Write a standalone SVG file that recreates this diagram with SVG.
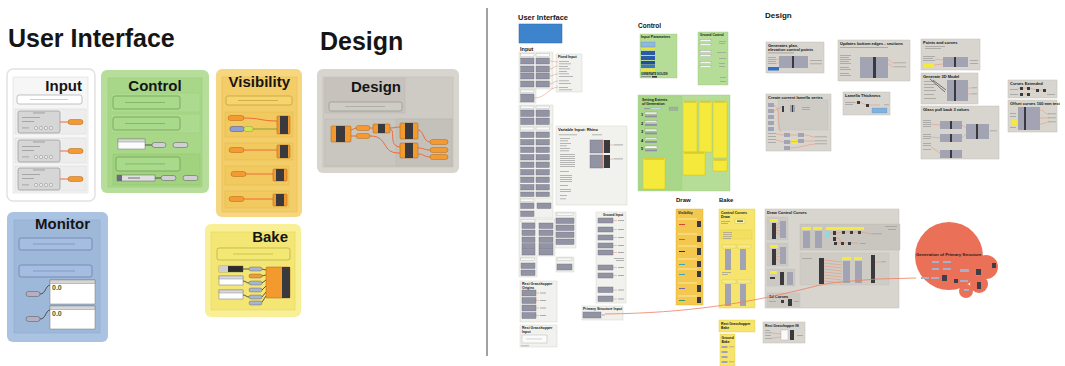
<svg xmlns="http://www.w3.org/2000/svg" width="1065" height="366" viewBox="0 0 1065 366">
<style>
.t{font-family:"Liberation Sans",Arial,sans-serif;font-weight:bold;fill:#151515}
.big{font-size:25px}
.h15{font-size:15px}
.s4{font-size:4px}
.s35{font-size:3.5px}
.gb{fill:#fff;stroke:#9a9a9a;stroke-width:0.6}
.cap{fill:#f39a33;stroke:#b0661c;stroke-width:0.5}
.gcap{fill:#cfcfd4;stroke:#555;stroke-width:0.5}
.wire{fill:none;stroke:#ee6a3a;stroke-width:1}
.dwire{fill:none;stroke:#333;stroke-width:0.8}
.blk{fill:#9293a3;stroke:#6e6f80;stroke-width:0.4}
.hdr{fill:#fafafa;stroke:#b0b0b0;stroke-width:0.4}
.grp{fill:#f1f1ed;stroke:#d6d6cf;stroke-width:0.5}
.dbox{fill:#d8d5cf;stroke:#c2bfb8;stroke-width:0.5}
.ln{fill:#9a9a9a}
.lnl{fill:#c4c4c4}
.ow{fill:none;stroke:#f08a66;stroke-width:0.5}
.yel{fill:#f5ea3c;stroke:#cdbf22;stroke-width:0.4}
.comp{fill:#f29a2e;stroke:#a8601c;stroke-width:0.5}
.dark{fill:#3a3a3e}
.gr{fill:#a3a4b3}
</style>

<!-- ============ LEFT PANEL ============ -->
<g id="title-ui"><text class="t big" x="8" y="47">User Interface</text></g>
<g id="title-design"><text class="t big" x="320" y="50">Design</text></g>

<g id="input">
<rect x="7" y="69" width="88" height="132" rx="6" fill="#fff" stroke="#e2e2e2" stroke-width="1.5"/>
<rect x="13" y="77" width="75" height="116" fill="#f6f6f6" stroke="#dcdcdc" stroke-width="0.6"/>
<text class="t h15" x="82" y="91" text-anchor="end">Input</text>
<rect class="gb" x="17" y="95" width="65" height="9" rx="2"/>
<rect class="lnl" x="30" y="99" width="38" height="0.8"/>
<g id="input-row1">
<rect x="15" y="109" width="71" height="25" fill="#ededed" stroke="#d8d8d8" stroke-width="0.5"/>
<rect x="18" y="111" width="42" height="22" rx="2" fill="#d6d6d6" stroke="#8a8a8a" stroke-width="0.6"/>
<rect class="ln" x="33" y="112.5" width="12" height="0.9"/><rect class="ln" x="22" y="117" width="18" height="0.8"/><rect class="ln" x="22" y="121" width="12" height="0.8"/><rect class="ln" x="22" y="127.5" width="7" height="0.8"/>
<circle cx="36" cy="128" r="1.6" fill="#eee" stroke="#777" stroke-width="0.4"/><circle cx="41" cy="128" r="1.6" fill="#eee" stroke="#777" stroke-width="0.4"/><circle cx="46" cy="128" r="1.6" fill="#eee" stroke="#777" stroke-width="0.4"/><circle cx="51" cy="128" r="1.6" fill="#eee" stroke="#777" stroke-width="0.4"/>
<path class="wire" d="M60,122 L68,122"/><rect class="cap" x="68" y="119.5" width="15" height="5" rx="2.5"/>
</g>
<g id="input-row2">
<rect x="15" y="138" width="71" height="25" fill="#ededed" stroke="#d8d8d8" stroke-width="0.5"/>
<rect x="18" y="140" width="42" height="22" rx="2" fill="#d6d6d6" stroke="#8a8a8a" stroke-width="0.6"/>
<rect class="ln" x="33" y="141.5" width="12" height="0.9"/><rect class="ln" x="22" y="146" width="18" height="0.8"/><rect class="ln" x="22" y="150" width="12" height="0.8"/><rect class="ln" x="22" y="156.5" width="7" height="0.8"/>
<circle cx="36" cy="157" r="1.6" fill="#eee" stroke="#777" stroke-width="0.4"/><circle cx="41" cy="157" r="1.6" fill="#eee" stroke="#777" stroke-width="0.4"/><circle cx="46" cy="157" r="1.6" fill="#eee" stroke="#777" stroke-width="0.4"/><circle cx="51" cy="157" r="1.6" fill="#eee" stroke="#777" stroke-width="0.4"/>
<path class="wire" d="M60,151 L68,151"/><rect class="cap" x="68" y="148.5" width="15" height="5" rx="2.5"/>
</g>
<g id="input-row3">
<rect x="15" y="166" width="71" height="25" fill="#ededed" stroke="#d8d8d8" stroke-width="0.5"/>
<rect x="18" y="168" width="42" height="22" rx="2" fill="#d6d6d6" stroke="#8a8a8a" stroke-width="0.6"/>
<rect class="ln" x="33" y="169.5" width="12" height="0.9"/><rect class="ln" x="22" y="174" width="18" height="0.8"/><rect class="ln" x="22" y="178" width="12" height="0.8"/><rect class="ln" x="22" y="184.5" width="7" height="0.8"/>
<circle cx="36" cy="185" r="1.6" fill="#eee" stroke="#777" stroke-width="0.4"/><circle cx="41" cy="185" r="1.6" fill="#eee" stroke="#777" stroke-width="0.4"/><circle cx="46" cy="185" r="1.6" fill="#eee" stroke="#777" stroke-width="0.4"/><circle cx="51" cy="185" r="1.6" fill="#eee" stroke="#777" stroke-width="0.4"/>
<path class="wire" d="M60,179 L68,179"/><rect class="cap" x="68" y="176.5" width="15" height="5" rx="2.5"/>
</g>
</g>

<g id="control">
<rect x="101" y="70" width="108" height="123" rx="6" fill="#b6de9a"/>
<rect x="108" y="78" width="94" height="109" fill="#a8d788" stroke="#94c674" stroke-width="0.5"/>
<text class="t h15" x="155" y="91" text-anchor="middle">Control</text>
<rect x="111" y="93" width="89" height="19" fill="#acda8e" stroke="#9acb7b" stroke-width="0.4"/>
<rect x="113" y="96" width="67" height="13" rx="2" fill="#a9da8b" stroke="#5f8f45" stroke-width="0.6"/>
<rect x="125" y="102" width="40" height="0.8" fill="#7fb062"/>
<rect x="111" y="114" width="89" height="19" fill="#acda8e" stroke="#9acb7b" stroke-width="0.4"/>
<rect x="113" y="117" width="67" height="13" rx="2" fill="#a9da8b" stroke="#5f8f45" stroke-width="0.6"/>
<rect x="125" y="123" width="40" height="0.8" fill="#7fb062"/>
<rect x="118" y="139" width="27" height="10" fill="#fbfbfb" stroke="#777" stroke-width="0.5"/>
<rect x="118" y="139" width="27" height="3" fill="#d8d8d8" stroke="#777" stroke-width="0.4"/>
<path class="dwire" d="M145,145 L152,145"/>
<rect class="gcap" x="152" y="142.5" width="14" height="5" rx="2.5"/>
<rect class="gcap" x="173" y="142.5" width="15" height="5" rx="2.5"/>
<rect x="113" y="154" width="87" height="31" fill="#a1d37f" stroke="#90c36f" stroke-width="0.4"/>
<rect x="116" y="157" width="64" height="14" rx="2" fill="#a9da8b" stroke="#5f8f45" stroke-width="0.6"/>
<rect x="125" y="163.5" width="40" height="0.8" fill="#7fb062"/>
<rect x="117" y="175" width="38" height="6" fill="#e0e0e0" stroke="#666" stroke-width="0.5"/>
<rect x="117" y="175" width="5" height="6" fill="#6a6a7a"/>
<rect x="128" y="177.6" width="12" height="0.8" fill="#555"/>
<path class="dwire" d="M155,178 L161,178"/>
<rect class="gcap" x="161" y="175.5" width="15" height="5" rx="2.5"/>
<rect class="gcap" x="183" y="175.5" width="15" height="5" rx="2.5"/>
</g>

<g id="visibility">
<rect x="216" y="69" width="86" height="148" rx="6" fill="#f7d680"/>
<rect x="222" y="77" width="75" height="135" fill="#f3cd68" stroke="#e2b850" stroke-width="0.5"/>
<text class="t h15" x="290" y="87" text-anchor="end">Visibility</text>
<rect x="226" y="96" width="66" height="9" rx="2" fill="#f6d56b" stroke="#b8923a" stroke-width="0.6"/>
<rect x="238" y="100" width="40" height="0.8" fill="#c9a448"/>
<rect x="225" y="112" width="68" height="25" fill="#f1c95e" stroke="#deb44a" stroke-width="0.4"/>
<path class="wire" d="M244,118 C260,118 262,121 277,121"/>
<path d="M253,129 L277,129" fill="none" stroke="#8aa03a" stroke-width="1"/>
<rect class="cap" x="228" y="115.5" width="16" height="5" rx="2.5"/>
<rect x="230" y="126.5" width="14" height="5" rx="2" fill="#8f9fd4" stroke="#44508a" stroke-width="0.5"/>
<rect x="244" y="126.5" width="9" height="5" rx="2" fill="#d3e35a" stroke="#8aa03a" stroke-width="0.5"/>
<rect class="comp" x="277" y="116" width="13" height="18" rx="1"/><rect class="dark" x="280" y="116" width="8" height="18"/>
<rect x="225" y="143" width="68" height="17" fill="#f1c95e" stroke="#deb44a" stroke-width="0.4"/>
<path class="wire" d="M244,150 L277,150"/>
<rect class="cap" x="229" y="147.5" width="15" height="5" rx="2.5"/>
<rect class="comp" x="277" y="145" width="13" height="13" rx="1"/><rect class="dark" x="280" y="145" width="8" height="13"/>
<rect x="225" y="166" width="64" height="19" fill="#f1c95e" stroke="#deb44a" stroke-width="0.4"/>
<path class="wire" d="M246,174 L273,174"/>
<rect class="cap" x="231" y="171.5" width="15" height="5" rx="2.5"/>
<rect class="comp" x="273" y="169" width="14" height="12" rx="1"/><rect class="dark" x="276" y="169" width="8" height="12"/>
<rect x="225" y="191" width="64" height="17" fill="#f1c95e" stroke="#deb44a" stroke-width="0.4"/>
<path class="wire" d="M244,199 L273,199"/>
<rect class="cap" x="229" y="196.5" width="15" height="5" rx="2.5"/>
<rect class="comp" x="273" y="194" width="14" height="12" rx="1"/><rect class="dark" x="276" y="194" width="8" height="12"/>
</g>

<g id="design">
<rect x="317" y="69" width="142" height="104" rx="6" fill="#d8d5ce"/>
<rect x="323" y="77" width="130" height="90" fill="#cecbc4" stroke="#bdbab3" stroke-width="0.5"/>
<rect x="325" y="78" width="80" height="35" fill="#c7c3bc" stroke="#b8b4ad" stroke-width="0.4"/>
<text class="t h15" x="401" y="92" text-anchor="end">Design</text>
<rect x="329" y="102" width="73" height="9" rx="2" fill="#cfccc5" stroke="#8f8c86" stroke-width="0.6"/>
<rect x="345" y="106" width="40" height="0.8" fill="#a9a6a0"/>
<rect x="325" y="119" width="127" height="47" fill="#c9c6bf" stroke="#b9b6af" stroke-width="0.4"/>
<rect x="396" y="119" width="56" height="47" fill="#c4c1ba" stroke="#b5b2ab" stroke-width="0.4"/>
<path class="wire" d="M351,130 L356,128 M351,136 L356,136 M370,128 L373,128 M390,128 C395,128 395,127 400,127 M390,129 C396,130 388,146 400,147 M370,136 C380,136 382,140 387,148 C390,152 394,153 400,153 M418,130 C424,130 423,142 430,142 M418,148 C424,148 424,150 430,150 M418,154 C424,154 424,157 430,157"/>
<rect class="comp" x="331" y="126" width="20" height="16" rx="1"/><rect class="dark" x="336" y="126" width="9" height="16"/>
<rect class="cap" x="356" y="125.5" width="14" height="5" rx="2.5"/>
<rect class="cap" x="356" y="133.5" width="14" height="5" rx="2.5"/>
<rect class="comp" x="373" y="124" width="17" height="9" rx="1"/><rect class="dark" x="378" y="124" width="7" height="9"/>
<rect class="comp" x="400" y="123" width="18" height="16" rx="1"/><rect class="dark" x="405" y="123" width="8" height="16"/>
<rect class="comp" x="400" y="143" width="18" height="15" rx="1"/><rect class="dark" x="405" y="143" width="8" height="15"/>
<rect class="cap" x="430" y="139.5" width="18" height="5" rx="2.5"/>
<rect class="cap" x="430" y="147.5" width="18" height="5" rx="2.5"/>
<rect class="cap" x="430" y="154.5" width="18" height="5" rx="2.5"/>
</g>

<g id="monitor">
<rect x="7" y="212" width="101" height="130" rx="6" fill="#aac3e2"/>
<rect x="14" y="220" width="86" height="113" fill="#9eb8da" stroke="#8ea8cc" stroke-width="0.5"/>
<text class="t h15" x="90" y="229" text-anchor="end">Monitor</text>
<rect x="19" y="238" width="73" height="12" rx="2" fill="#a4bde0" stroke="#5a6f93" stroke-width="0.6"/>
<rect x="33" y="243.6" width="42" height="0.8" fill="#7d93b8"/>
<rect x="19" y="265" width="73" height="12" rx="2" fill="#a4bde0" stroke="#5a6f93" stroke-width="0.6"/>
<rect x="33" y="270.6" width="42" height="0.8" fill="#7d93b8"/>
<rect x="50" y="280" width="45" height="24" fill="#fff" stroke="#777" stroke-width="0.5"/>
<rect x="50" y="280" width="45" height="3.5" fill="#d6d6d6" stroke="#777" stroke-width="0.4"/>
<text class="t" x="52" y="290" font-size="7" style="fill:#2e6b2e">0.0</text>
<rect x="50" y="306" width="45" height="23" fill="#fff" stroke="#777" stroke-width="0.5"/>
<rect x="50" y="306" width="45" height="3.5" fill="#d6d6d6" stroke="#777" stroke-width="0.4"/>
<text class="t" x="52" y="316" font-size="7" style="fill:#2e6b2e">0.0</text>
<path class="dwire" d="M40,294 C46,294 45,286 50,285 M40,319 C46,319 45,311 50,310"/>
<rect x="26" y="291.5" width="14" height="5" rx="2.5" fill="#b7aec2" stroke="#555" stroke-width="0.5"/>
<rect x="26" y="316.5" width="14" height="5" rx="2.5" fill="#b7aec2" stroke="#555" stroke-width="0.5"/>
</g>

<g id="bake">
<rect x="205" y="224" width="96" height="93" rx="6" fill="#f8ef97"/>
<rect x="211" y="232" width="84" height="78" fill="#f3e675" stroke="#e0d15b" stroke-width="0.5"/>
<text class="t h15" x="288" y="242" text-anchor="end">Bake</text>
<rect x="217" y="248" width="73" height="12" rx="2" fill="#f4e874" stroke="#a89d3a" stroke-width="0.6"/>
<rect x="233" y="253.6" width="40" height="0.8" fill="#c6b94a"/>
<rect x="219" y="266" width="24" height="6" fill="#2c2c2c" stroke="#555" stroke-width="0.4"/>
<rect x="219" y="266" width="9" height="6" fill="#cfcfcf"/>
<rect x="219" y="276" width="24" height="9" fill="#fff" stroke="#777" stroke-width="0.5"/>
<rect x="219" y="276" width="24" height="3" fill="#d9d9d9" stroke="#777" stroke-width="0.4"/>
<rect x="219" y="290" width="24" height="9" fill="#fff" stroke="#777" stroke-width="0.5"/>
<rect x="219" y="290" width="24" height="3" fill="#d9d9d9" stroke="#777" stroke-width="0.4"/>
<path class="dwire" d="M243,269 L249,269 M243,281 C246,281 246,283 249,283 M243,295 C246,295 246,297 249,297 M262,269 L266,270 M262,276 L266,275 M262,283 L266,280 M262,290 L266,286 M262,297 L266,292 M262,302 L266,296"/>
<rect x="249" y="267" width="13" height="4" rx="2" fill="#a9b5cb" stroke="#555" stroke-width="0.4"/>
<rect x="249" y="274" width="13" height="4" rx="2" fill="#f39a33" stroke="#555" stroke-width="0.4"/>
<rect x="249" y="281" width="13" height="4" rx="2" fill="#a9b5cb" stroke="#555" stroke-width="0.4"/>
<rect x="249" y="288" width="13" height="4" rx="2" fill="#a9b5cb" stroke="#555" stroke-width="0.4"/>
<rect x="249" y="295" width="13" height="4" rx="2" fill="#a9b5cb" stroke="#555" stroke-width="0.4"/>
<rect x="249" y="301" width="13" height="4" rx="2" fill="#a9b5cb" stroke="#555" stroke-width="0.4"/>
<rect class="comp" x="266" y="267" width="24" height="31" rx="1"/><rect class="dark" x="282" y="267" width="8" height="31"/>
</g>

<g id="divider"><line x1="487" y1="8" x2="487" y2="356" stroke="#444" stroke-width="1"/></g>

<!-- ============ RIGHT PANEL ============ -->
<g id="r-title-ui">
<text class="t" x="518" y="20" font-size="7.5">User Interface</text>
<rect x="519" y="24" width="43" height="19" fill="#3d84cc" stroke="#2a67a8" stroke-width="0.5"/>
<text class="t" x="520" y="51" font-size="5.5">Input</text>
</g>

<g id="r-input-blocks">
<rect class="grp" x="519" y="52" width="34" height="37"/><rect class="grp" x="519" y="89" width="17" height="14"/>
<rect class="hdr" x="520.7" y="53.3" width="13.3" height="3.4"/><rect class="hdr" x="536" y="53.3" width="13.3" height="3.4"/>
<rect class="blk" x="520.7" y="58" width="13.3" height="6"/><rect class="blk" x="520.7" y="66" width="13.3" height="6"/><rect class="blk" x="520.7" y="73" width="13.3" height="6"/><rect class="blk" x="520.7" y="81" width="13.3" height="6"/>
<rect class="blk" x="536" y="58" width="13.3" height="6"/><rect class="blk" x="536" y="66" width="13.3" height="6"/><rect class="blk" x="536" y="73" width="13.3" height="6"/><rect class="blk" x="536" y="81" width="13.3" height="6"/>
<rect class="hdr" x="520.7" y="90" width="13.3" height="2.7"/><rect class="blk" x="520.7" y="94" width="13.3" height="8"/>
<rect class="grp" x="519" y="105" width="34" height="20"/>
<rect class="hdr" x="520.7" y="106" width="13.3" height="2.5"/><rect class="hdr" x="536" y="106" width="13.3" height="2.5"/>
<rect class="blk" x="520.7" y="110" width="13.3" height="6.5"/><rect class="blk" x="520.7" y="118" width="13.3" height="6.5"/><rect class="blk" x="536" y="110" width="13.3" height="6.5"/><rect class="blk" x="536" y="118" width="13.3" height="6.5"/>
<rect class="grp" x="519" y="126" width="34" height="71"/>
<rect class="hdr" x="520.7" y="127" width="13.3" height="3"/><rect class="hdr" x="536" y="127" width="13.3" height="3"/>
<rect class="blk" x="520.7" y="132" width="13.3" height="5.5"/><rect class="blk" x="520.7" y="139.5" width="13.3" height="5.5"/><rect class="blk" x="520.7" y="147" width="13.3" height="5.5"/><rect class="blk" x="520.7" y="154.5" width="13.3" height="5.5"/><rect class="blk" x="520.7" y="162" width="13.3" height="5.5"/><rect class="blk" x="520.7" y="169.5" width="13.3" height="5.5"/><rect class="blk" x="520.7" y="177" width="13.3" height="5.5"/><rect class="blk" x="520.7" y="184.5" width="13.3" height="5.5"/><rect class="blk" x="520.7" y="192" width="13.3" height="4.5"/>
<rect class="blk" x="536" y="132" width="13.3" height="5.5"/><rect class="blk" x="536" y="139.5" width="13.3" height="5.5"/><rect class="blk" x="536" y="147" width="13.3" height="5.5"/><rect class="blk" x="536" y="154.5" width="13.3" height="5.5"/><rect class="blk" x="536" y="162" width="13.3" height="5.5"/><rect class="blk" x="536" y="169.5" width="13.3" height="5.5"/><rect class="blk" x="536" y="177" width="13.3" height="5.5"/><rect class="blk" x="536" y="184.5" width="13.3" height="5.5"/><rect class="blk" x="536" y="192" width="13.3" height="4.5"/>
<rect class="grp" x="519" y="198" width="34" height="20"/>
<rect class="hdr" x="520.7" y="199" width="13.3" height="2.5"/>
<rect class="blk" x="520.7" y="203" width="13.3" height="5.5"/><rect class="blk" x="520.7" y="211" width="13.3" height="5.5"/><rect class="blk" x="537" y="203" width="14" height="5.5"/>
<rect class="grp" x="519" y="219" width="36" height="37"/>
<rect class="hdr" x="521" y="219.5" width="14" height="2.5"/>
<rect class="blk" x="522" y="223" width="13" height="5.5"/><rect class="blk" x="522" y="230" width="13" height="5.5"/><rect class="blk" x="522" y="237" width="13" height="5.5"/><rect class="blk" x="522" y="243.5" width="13" height="5.5"/><rect class="blk" x="522" y="249.5" width="13" height="5.5"/>
<rect class="blk" x="539" y="223" width="14" height="5.5"/><rect class="blk" x="539" y="230" width="14" height="5.5"/><rect class="blk" x="539" y="237" width="14" height="5.5"/><rect class="blk" x="539" y="243.5" width="14" height="5.5"/><rect class="blk" x="539" y="249.5" width="14" height="5.5"/>
<rect class="grp" x="555" y="212" width="21" height="36"/>
<rect class="hdr" x="556.5" y="213" width="17" height="2.5"/>
<rect class="blk" x="556" y="218" width="18" height="5.5"/><rect class="blk" x="556" y="225" width="18" height="5.5"/><rect class="blk" x="556" y="232" width="18" height="5.5"/><rect class="blk" x="556" y="239" width="18" height="5.5"/>
<rect class="grp" x="519" y="257" width="18" height="20"/>
<rect class="hdr" x="520.7" y="258" width="14" height="2.5"/>
<rect class="blk" x="521" y="263" width="14" height="5.5"/><rect class="blk" x="521" y="270" width="14" height="5.5"/>
<rect class="grp" x="556" y="257" width="18" height="15"/>
<rect class="hdr" x="557" y="258" width="15" height="2.5"/><rect class="blk" x="557" y="264" width="15" height="6"/>
</g>

<g id="r-fixed-input">
<rect class="grp" x="556" y="54" width="26" height="38"/>
<text class="t s35" x="558" y="58">Fixed Input</text>
<rect class="ln" x="559" y="61" width="10" height="0.7"/><rect class="ln" x="559" y="63.5" width="12" height="0.7"/><rect class="ln" x="559" y="66" width="9" height="0.7"/><rect class="ln" x="559" y="68.5" width="11" height="0.7"/><rect class="ln" x="559" y="71" width="8" height="0.7"/><rect class="ln" x="559" y="73.5" width="10" height="0.7"/><rect class="ln" x="559" y="76" width="14" height="0.7"/><rect class="ln" x="559" y="80.5" width="10" height="0.7"/><rect class="ln" x="559" y="83" width="12" height="0.7"/><rect class="ln" x="559" y="87" width="9" height="0.7"/><rect class="ln" x="559" y="89.5" width="13" height="0.7"/>
<path class="ow" d="M549,61 C554,61 553,62 558,62 M549,69 C554,69 553,66 558,66 M549,76 C554,76 553,74 558,74 M549,84 C554,84 553,81 558,81 M534,98 C546,98 548,88 558,87"/>
</g>

<g id="r-variable-input">
<rect class="grp" x="556" y="126" width="71" height="79"/>
<text class="t s4" x="558" y="130.5">Variable Input: Rhino</text>
<rect class="ln" x="559" y="134.5" width="18" height="0.7"/><rect class="ln" x="592" y="134.5" width="10" height="0.7"/>
<rect class="ln" x="560" y="138" width="10" height="0.7"/><rect class="ln" x="560" y="140.5" width="8" height="0.7"/><rect class="ln" x="560" y="143" width="11" height="0.7"/><rect class="ln" x="560" y="145.5" width="7" height="0.7"/><rect class="ln" x="560" y="148" width="10" height="0.7"/><rect class="ln" x="560" y="150.5" width="9" height="0.7"/>
<rect class="ln" x="560" y="154" width="15" height="0.7"/><rect class="ln" x="560" y="156" width="15" height="0.7"/><rect class="ln" x="560" y="158" width="15" height="0.7"/><rect class="ln" x="560" y="160" width="15" height="0.7"/><rect class="ln" x="560" y="162" width="15" height="0.7"/><rect class="ln" x="560" y="164" width="15" height="0.7"/><rect class="ln" x="560" y="166" width="15" height="0.7"/>
<rect class="ln" x="560" y="171" width="9" height="0.7"/><rect class="ln" x="560" y="175" width="12" height="0.7"/><rect class="ln" x="560" y="177" width="12" height="0.7"/><rect class="ln" x="560" y="179" width="12" height="0.7"/><rect class="ln" x="560" y="181" width="12" height="0.7"/><rect class="ln" x="560" y="185" width="8" height="0.7"/><rect class="ln" x="560" y="189" width="11" height="0.7"/><rect class="ln" x="560" y="191" width="11" height="0.7"/><rect class="ln" x="560" y="195" width="7" height="0.7"/><rect class="ln" x="560" y="198.5" width="6" height="0.7"/>
<rect class="blk" x="590" y="140" width="13" height="13"/><rect class="blk" x="590" y="155" width="13" height="13"/>
<rect x="602.5" y="140" width="1" height="13" fill="#f08a66"/><rect x="602.5" y="155" width="1" height="13" fill="#f08a66"/>
<rect class="dark" x="604" y="140" width="6" height="13"/><rect class="dark" x="604" y="155" width="6" height="13"/>
<path class="ow" d="M610,145 L614,145 M610,159 L614,159"/>
<rect class="ln" x="614" y="144.5" width="9" height="0.8"/><rect class="ln" x="614" y="158.5" width="9" height="0.8"/>
</g>

<g id="r-rest-origins">
<rect class="grp" x="520" y="281" width="37" height="41"/>
<text class="t s35" x="522" y="285">Rest Grasshopper</text>
<text class="t s35" x="522" y="289">Origins</text>
<rect class="blk" x="522" y="290" width="14" height="6"/><rect class="blk" x="522" y="297.5" width="14" height="6"/><rect class="blk" x="522" y="305" width="14" height="6"/><rect class="blk" x="522" y="312.5" width="14" height="6"/>
<path class="ow" d="M536,293 L539,293 M536,300.5 L539,300.5 M536,308 L539,308 M536,315.5 L539,315.5"/>
<rect class="ln" x="540" y="292.6" width="6" height="0.8"/><rect class="ln" x="540" y="300.1" width="6" height="0.8"/><rect class="ln" x="540" y="307.6" width="6" height="0.8"/><rect class="ln" x="540" y="315.1" width="6" height="0.8"/>
</g>

<g id="r-rest-input">
<rect class="grp" x="520" y="325" width="37" height="22"/>
<text class="t s35" x="522" y="329">Rest Grasshopper</text>
<text class="t s35" x="522" y="333">Input</text>
<rect x="522" y="335" width="25" height="8" fill="#fbfbfb" stroke="#aaa" stroke-width="0.4"/>
<rect class="lnl" x="526" y="338.6" width="16" height="0.7"/>
<rect class="ln" x="521" y="345.5" width="8" height="0.7"/>
</g>

<g id="r-ground-input">
<rect class="grp" x="596" y="212" width="30" height="91"/>
<text class="t" x="603" y="216" font-size="3.2">Ground Input</text>
<rect class="blk" x="598" y="218" width="15" height="5"/><rect class="blk" x="598" y="227" width="15" height="5"/><rect class="blk" x="598" y="235" width="15" height="5"/><rect class="blk" x="598" y="243" width="15" height="5"/><rect class="blk" x="598" y="250" width="15" height="5"/><rect class="blk" x="598" y="265" width="15" height="5"/><rect class="blk" x="598" y="273" width="15" height="5"/><rect class="blk" x="598" y="287" width="15" height="5.5"/><rect class="blk" x="598" y="296" width="15" height="5.5"/>
<path class="ow" d="M613,220.5 L617,220.5 M613,229.5 L617,229.5 M613,237.5 L617,237.5 M613,245.5 L617,245.5 M613,252.5 L617,252.5 M613,267.5 L617,267.5 M613,275.5 L617,275.5 M613,290 L617,290 M613,299 L617,299"/>
<rect class="ln" x="618" y="220" width="6" height="0.8"/><rect class="ln" x="618" y="229" width="6" height="0.8"/><rect class="ln" x="618" y="237" width="6" height="0.8"/><rect class="ln" x="618" y="245" width="6" height="0.8"/><rect class="ln" x="618" y="252" width="6" height="0.8"/><rect class="ln" x="614" y="258" width="10" height="0.7"/><rect class="ln" x="616" y="260" width="8" height="0.7"/><rect class="ln" x="618" y="267" width="6" height="0.8"/><rect class="ln" x="618" y="275" width="6" height="0.8"/><rect class="ln" x="618" y="289.6" width="6" height="0.8"/><rect class="ln" x="618" y="298.6" width="6" height="0.8"/>
</g>

<g id="r-primary-input">
<rect class="grp" x="582" y="306" width="41" height="14"/>
<text class="t s35" x="583" y="309.5">Primary Structure Input</text>
<rect class="blk" x="583" y="312" width="18" height="6"/>
<rect class="ln" x="602" y="314.6" width="3" height="0.8"/>
</g>

<g id="r-control">
<text class="t" x="638" y="28" font-size="6.5">Control</text>
<g id="r-input-parameters">
<rect x="640" y="34" width="37" height="44" fill="#b5dd98" stroke="#9cc980" stroke-width="0.4"/>
<text class="t" x="641" y="38" font-size="3.6">Input Parameters</text>
<rect x="641" y="42" width="14" height="5" fill="#8fb8e0" stroke="#5b7fae" stroke-width="0.3"/>
<rect x="641" y="48" width="14" height="1.5" fill="#f0e23a"/>
<rect x="641" y="51" width="14" height="4" fill="#2c5aa6"/>
<rect x="641" y="56" width="14" height="4" fill="#2c5aa6"/>
<rect x="641" y="61" width="14" height="3.5" fill="#1f4e9a"/>
<rect x="641" y="65" width="14" height="3" fill="#3a78c4"/>
<rect x="641" y="68.5" width="14" height="3" fill="#f0e23a"/>
<text class="t" x="641" y="75" font-size="2.8">GENERATE SOLIDS</text>
<rect x="641" y="76.3" width="10" height="0.8" fill="#777"/><rect class="dark" x="652" y="76" width="5" height="1.6"/>
</g>
<g id="r-ground-control">
<rect x="698" y="32" width="30" height="53" fill="#b5dd98" stroke="#9cc980" stroke-width="0.4"/>
<text class="t" x="700" y="36" font-size="3.2">Ground Control</text>
<rect x="700" y="39.5" width="11" height="2.3" fill="#f4f4f4" stroke="#888" stroke-width="0.3"/><rect x="700" y="43.5" width="11" height="2.3" fill="#f4f4f4" stroke="#888" stroke-width="0.3"/><rect x="700" y="50.5" width="11" height="2.3" fill="#f4f4f4" stroke="#888" stroke-width="0.3"/><rect x="700" y="54.5" width="11" height="2.3" fill="#f4f4f4" stroke="#888" stroke-width="0.3"/><rect x="700" y="61.5" width="11" height="2.3" fill="#f4f4f4" stroke="#888" stroke-width="0.3"/><rect x="700" y="65.5" width="11" height="2.3" fill="#f4f4f4" stroke="#888" stroke-width="0.3"/>
<rect class="ln" x="719" y="41" width="7" height="0.7"/><rect class="ln" x="719" y="43" width="6" height="0.7"/><rect class="ln" x="717" y="52" width="9" height="0.7"/><rect class="ln" x="719" y="58" width="7" height="0.7"/><rect class="ln" x="719" y="63" width="6" height="0.7"/><rect class="ln" x="719" y="66" width="6" height="0.7"/><rect class="ln" x="720" y="77" width="6" height="0.7"/><rect class="ln" x="720" y="81" width="6" height="0.7"/>
</g>
<g id="r-extents">
<rect x="638" y="95" width="92" height="96" fill="#b5dd98" stroke="#9cc980" stroke-width="0.4"/>
<rect x="639" y="96" width="43" height="94" fill="#a9d78a" stroke="#98c77a" stroke-width="0.3"/>
<text class="t s35" x="642" y="101">Setting Extents</text>
<text class="t s35" x="642" y="105">of Generation</text>
<rect class="ln" x="644" y="108" width="6" height="1.2"/><rect x="651" y="107.8" width="10" height="1.6" fill="#c8d8e8" stroke="#888" stroke-width="0.2"/>
<rect x="669" y="107" width="9" height="3.5" fill="#9fb0a0" stroke="#7a8a7a" stroke-width="0.2"/>
<text class="t s4" x="641" y="116">1</text><text class="t s4" x="641" y="124.5">2</text><text class="t s4" x="641" y="133">3</text><text class="t s4" x="641" y="141.5">4</text><text class="t s4" x="641" y="150">5</text>
<rect x="645" y="112" width="12" height="2.3" fill="#e6efe0" stroke="#777" stroke-width="0.3"/><rect x="645" y="115.5" width="12" height="1.8" fill="#8d8e9e"/>
<rect x="645" y="120.5" width="12" height="2.3" fill="#e6efe0" stroke="#777" stroke-width="0.3"/><rect x="645" y="124" width="12" height="1.8" fill="#8d8e9e"/>
<rect x="645" y="129" width="12" height="2.3" fill="#e6efe0" stroke="#777" stroke-width="0.3"/><rect x="645" y="132.5" width="12" height="1.8" fill="#8d8e9e"/>
<rect x="645" y="137.5" width="12" height="2.3" fill="#e6efe0" stroke="#777" stroke-width="0.3"/><rect x="645" y="141" width="12" height="1.8" fill="#8d8e9e"/>
<rect x="645" y="146" width="12" height="2.3" fill="#f8f8f8" stroke="#777" stroke-width="0.3"/><rect x="645" y="149.5" width="12" height="1.8" fill="#8d8e9e"/>
<rect class="yel" x="643" y="158" width="22" height="31"/>
<rect class="yel" x="683" y="101" width="14" height="51"/>
<rect class="yel" x="699" y="101" width="13" height="51"/>
<rect class="yel" x="713" y="101" width="14" height="57"/>
<rect class="yel" x="683" y="152" width="22" height="23"/>
<rect class="yel" x="713" y="159" width="14" height="12"/>
<rect x="684" y="101.5" width="12" height="1" fill="#c8b62a"/><rect x="700" y="101.5" width="11" height="1" fill="#c8b62a"/><rect x="714" y="101.5" width="12" height="1" fill="#c8b62a"/><rect x="684" y="152.5" width="20" height="1" fill="#c8b62a"/><rect x="714" y="159.5" width="12" height="1" fill="#c8b62a"/><rect x="644" y="158.5" width="20" height="1" fill="#c8b62a"/>
</g>
</g>

<g id="r-draw-bake-titles">
<text class="t" x="676" y="202" font-size="6">Draw</text>
<text class="t" x="719" y="202" font-size="6">Bake</text>
</g>

<g id="r-visibility">
<rect x="676" y="209" width="27" height="96" fill="#f4c84f" stroke="#dcae3a" stroke-width="0.4"/>
<text class="t" x="678" y="213.5" font-size="3.6">Visibility</text>
<rect x="678" y="218" width="19" height="2" fill="#f8d978"/><rect x="679" y="224" width="6" height="1" fill="#d8403a"/><rect class="dark" x="697" y="221" width="4" height="6"/>
<rect x="678" y="233" width="19" height="2" fill="#f8d978"/><rect x="679" y="239" width="6" height="1" fill="#3aa070"/><rect class="dark" x="697" y="236" width="4" height="6"/>
<rect x="678" y="245" width="19" height="2" fill="#f8d978"/><rect x="679" y="251" width="6" height="1" fill="#333"/><rect class="dark" x="697" y="248" width="4" height="7"/>
<rect x="678" y="258" width="19" height="2" fill="#f8d978"/><rect x="679" y="264" width="6" height="1" fill="#38a7c0"/><rect class="dark" x="697" y="261" width="4" height="6"/>
<rect x="678" y="268" width="19" height="2" fill="#f8d978"/><rect x="679" y="274" width="6" height="1" fill="#38a7c0"/><rect class="dark" x="697" y="271" width="4" height="6"/>
<rect x="678" y="282" width="19" height="2" fill="#f8d978"/><rect x="679" y="288" width="6" height="1" fill="#7a60b0"/><rect class="dark" x="697" y="285" width="4" height="7"/>
<rect x="678" y="295" width="19" height="2" fill="#f8d978"/><rect x="679" y="300" width="6" height="1" fill="#3a9a6a"/><rect class="dark" x="697" y="297" width="4" height="6"/>
</g>

<g id="r-control-curves-draw">
<rect x="719" y="209" width="36" height="99" fill="#f6e46c" stroke="#dccb50" stroke-width="0.4"/>
<text class="t" x="721" y="213.5" font-size="3.6">Control Curves</text>
<text class="t" x="721" y="217.5" font-size="3.6">Draw</text>
<rect class="ln" x="721" y="221" width="9" height="0.7"/><rect class="ln" x="721" y="223" width="7" height="0.7"/>
<rect x="735" y="219" width="10" height="4.5" fill="#faf3a0" stroke="#b8a83a" stroke-width="0.3"/><rect class="dark" x="737" y="220.5" width="6" height="1.2"/>
<rect x="721" y="230" width="31" height="9" fill="#f3df60" stroke="#d8c64a" stroke-width="0.3"/>
<rect class="ln" x="723" y="232" width="9" height="0.7"/><rect class="ln" x="723" y="234" width="9" height="0.7"/><rect class="ln" x="723" y="236" width="9" height="0.7"/><rect class="ln" x="723" y="238" width="8" height="0.7"/>
<rect x="722" y="245" width="14" height="3" fill="#f8ed8a" stroke="#c9b84a" stroke-width="0.3"/><rect x="737" y="245" width="14" height="3" fill="#f8ed8a" stroke="#c9b84a" stroke-width="0.3"/>
<rect class="gr" x="725" y="249" width="6" height="21"/><rect class="gr" x="740" y="249" width="6" height="21"/>
<rect class="ln" x="722" y="272" width="9" height="0.7"/><rect class="ln" x="722" y="274" width="6" height="0.7"/>
<rect x="722" y="280" width="14" height="3" fill="#f8ed8a" stroke="#c9b84a" stroke-width="0.3"/><rect x="737" y="280" width="14" height="3" fill="#f8ed8a" stroke="#c9b84a" stroke-width="0.3"/>
<rect class="gr" x="725" y="284" width="6" height="22"/><rect class="gr" x="740" y="284" width="6" height="22"/>
</g>

<g id="r-rest-bake">
<rect x="719" y="320" width="36" height="12" fill="#f6e46c" stroke="#dccb50" stroke-width="0.4"/>
<text class="t" x="721" y="324.5" font-size="3.4">Rest Grasshopper</text>
<text class="t" x="721" y="328.5" font-size="3.4">Bake</text>
</g>
<g id="r-ground-bake">
<rect x="720" y="334" width="15" height="32" fill="#f6e46c" stroke="#dccb50" stroke-width="0.4"/>
<text class="t" x="721.5" y="338.5" font-size="3.4">Ground</text>
<text class="t" x="721.5" y="342.5" font-size="3.4">Bake</text>
<rect class="gr" x="721.5" y="346" width="6" height="2"/><rect class="gr" x="721.5" y="351" width="6" height="2"/><rect class="gr" x="721.5" y="356" width="6" height="2"/><rect class="gr" x="721.5" y="361" width="6" height="2"/>
<rect class="ln" x="729" y="346.5" width="5" height="0.7"/><rect class="ln" x="729" y="361.5" width="5" height="0.7"/>
</g>

<g id="r-design">
<text class="t" x="765" y="18" font-size="8">Design</text>
<g id="d-generates">
<rect class="dbox" x="766" y="42" width="58" height="31"/>
<text class="t s4" x="768" y="46.5">Generates plan,</text>
<text class="t s4" x="768" y="50.5">elevation control points</text>
<rect class="ln" x="768" y="52.5" width="26" height="0.8"/>
<rect class="ln" x="768" y="57" width="8" height="0.7"/><rect class="ln" x="768" y="59" width="8" height="0.7"/><rect class="ln" x="768" y="61" width="8" height="0.7"/><rect class="ln" x="768" y="63" width="8" height="0.7"/>
<rect x="768" y="67" width="11" height="3.5" fill="#2f6fc4"/>
<path class="ow" d="M776,60 L779,59 M776,64 L779,62"/>
<rect class="gr" x="779" y="56" width="29" height="12"/><rect class="dark" x="792" y="56" width="2" height="12"/>
<rect class="ln" x="810" y="60" width="12" height="0.7"/><rect class="ln" x="810" y="63.5" width="12" height="0.7"/>
</g>
<g id="d-updates">
<rect class="dbox" x="838" y="40" width="72" height="41"/>
<text class="t s4" x="840" y="44.5">Updates bottom edges - sections</text>
<rect class="ln" x="840" y="47" width="48" height="0.7"/>
<rect class="ln" x="840" y="55" width="11" height="0.7"/><rect class="ln" x="840" y="57" width="9" height="0.7"/><rect class="ln" x="840" y="59" width="11" height="0.7"/><rect class="ln" x="840" y="61" width="9" height="0.7"/><rect class="ln" x="840" y="63" width="11" height="0.7"/><rect class="ln" x="840" y="67" width="9" height="0.7"/><rect class="ln" x="840" y="69" width="11" height="0.7"/><rect class="ln" x="840" y="73" width="9" height="0.7"/><rect class="ln" x="840" y="75" width="11" height="0.7"/>
<rect class="gr" x="860" y="57" width="28" height="21"/><rect class="dark" x="873" y="57" width="3" height="21"/>
<path class="ow" d="M888,60 C892,60 890,63 894,63 M888,64 C892,64 890,67 894,67"/>
<rect class="ln" x="894" y="62.5" width="12" height="0.7"/><rect class="ln" x="894" y="66.5" width="12" height="0.7"/>
</g>
<g id="d-points">
<rect class="dbox" x="921" y="39" width="59" height="31"/>
<text class="t s4" x="923" y="43.5">Points and curves</text>
<rect class="ln" x="925" y="46" width="20" height="0.7"/><rect class="ln" x="925" y="48" width="16" height="0.7"/>
<rect class="ln" x="923" y="56" width="12" height="0.7"/><rect class="ln" x="923" y="58" width="10" height="0.7"/><rect class="ln" x="923" y="60" width="12" height="0.7"/>
<rect x="924" y="64" width="10" height="3.5" fill="#f5ea3c"/>
<path class="ow" d="M935,59 L943,60 M934,65 L943,64"/>
<rect class="gr" x="943" y="57" width="25" height="10"/><rect class="dark" x="954" y="57" width="2" height="10"/>
<rect class="ln" x="970" y="60" width="8" height="0.7"/><rect class="ln" x="970" y="63" width="8" height="0.7"/>
</g>
<g id="d-generate3d">
<rect class="dbox" x="921" y="73" width="57" height="31"/>
<text class="t s4" x="923" y="77.5">Generate 3D Model</text>
<rect class="ln" x="924" y="81" width="10" height="0.7"/><rect class="ln" x="924" y="84" width="12" height="0.7"/><rect class="ln" x="924" y="87" width="10" height="0.7"/><rect class="ln" x="924" y="90" width="12" height="0.7"/><rect class="ln" x="924" y="94" width="10" height="0.7"/><rect class="ln" x="924" y="98" width="12" height="0.7"/>
<path d="M930,79 L945,92 M933,80 L946,90" fill="none" stroke="#555" stroke-width="0.8"/>
<rect class="gr" x="947" y="80" width="21" height="21"/><rect class="dark" x="954" y="80" width="2" height="21"/>
<path class="ow" d="M968,88 L972,88 M968,94 L972,94"/>
<rect class="ln" x="972" y="87.5" width="5" height="0.7"/><rect class="ln" x="972" y="93.5" width="5" height="0.7"/>
</g>
<g id="d-lamella-thickness">
<rect class="dbox" x="843" y="92" width="47" height="23"/>
<text class="t s4" x="845" y="96.5">Lamella Thickness</text>
<rect class="ln" x="845" y="102" width="10" height="0.7"/><rect class="ln" x="845" y="104" width="8" height="0.7"/>
<rect class="dark" x="857" y="101" width="3" height="3"/><rect class="dark" x="866" y="104" width="3" height="3"/>
<path class="ow" d="M855,103 L857,102 M860,102 L866,105 M869,105 L880,105"/>
<rect class="ln" x="884" y="104.5" width="5" height="0.7"/>
<rect x="872" y="108" width="15" height="5" fill="#7fb2e0" stroke="#5a8fc0" stroke-width="0.3"/>
</g>
<g id="d-create-lamella">
<rect class="dbox" x="766" y="94" width="65" height="57"/>
<text class="t s4" x="768" y="98.5">Create current lamella series</text>
<rect x="778" y="100" width="50" height="30" fill="#cfccc5" stroke="#bebbb4" stroke-width="0.3"/>
<rect class="gr" x="768" y="103" width="6" height="4"/><rect class="gr" x="768" y="109" width="6" height="4"/><rect class="gr" x="768" y="115" width="6" height="4"/><rect class="gr" x="768" y="121" width="6" height="4"/><rect class="gr" x="768" y="127" width="6" height="4"/>
<path class="ow" d="M774,105 C782,110 776,122 781,132 M774,111 L782,107"/>
<rect class="dark" x="782" y="106" width="2" height="6"/><rect class="gr" x="790" y="105" width="5" height="7"/><rect class="dark" x="792" y="105" width="1" height="7"/>
<rect class="ln" x="802" y="107" width="8" height="0.7"/><rect class="ln" x="802" y="109" width="8" height="0.7"/>
<rect class="ln" x="768" y="133" width="8" height="0.7"/><rect class="ln" x="768" y="136" width="8" height="0.7"/><rect class="ln" x="768" y="139" width="8" height="0.7"/><rect class="ln" x="768" y="142" width="8" height="0.7"/>
<rect class="gr" x="784" y="133" width="6" height="4"/><rect class="gr" x="784" y="140" width="6" height="4"/><rect class="gr" x="784" y="146" width="6" height="4"/>
<rect x="792" y="139" width="6" height="5" fill="#f5ea3c"/>
<rect class="gr" x="798" y="133" width="6" height="4"/><rect class="gr" x="798" y="139" width="6" height="4"/>
<path class="ow" d="M776,134 L784,135 M776,140 L784,142 M790,135 L798,135 M790,142 L798,141 M804,135 C810,135 810,137 815,137 M804,141 C810,141 810,141 815,141 M790,148 C800,148 808,144 815,144"/>
<rect class="ln" x="815" y="136.5" width="12" height="0.7"/><rect class="ln" x="815" y="140.5" width="12" height="0.7"/><rect class="ln" x="815" y="143.5" width="12" height="0.7"/>
</g>
<g id="d-glass">
<rect class="dbox" x="921" y="106" width="78" height="53"/>
<text class="t s4" x="923" y="110.5">Glass pull back 3 values</text>
<rect class="ln" x="923" y="120" width="8" height="0.7"/><rect class="ln" x="923" y="122" width="8" height="0.7"/><rect class="ln" x="923" y="124" width="8" height="0.7"/><rect class="ln" x="923" y="126" width="8" height="0.7"/><rect class="ln" x="923" y="134" width="8" height="0.7"/><rect class="ln" x="923" y="136" width="8" height="0.7"/><rect class="ln" x="923" y="138" width="8" height="0.7"/><rect class="ln" x="923" y="143" width="8" height="0.7"/><rect class="ln" x="923" y="145" width="8" height="0.7"/><rect class="ln" x="923" y="149" width="8" height="0.7"/>
<path class="ow" d="M931,124 L940,125 M931,137 L940,138 M931,147 L940,153"/>
<rect class="gr" x="940" y="121" width="22" height="8"/><rect class="dark" x="950" y="121" width="2" height="8"/>
<rect class="gr" x="940" y="134" width="22" height="8"/><rect class="dark" x="950" y="134" width="2" height="8"/>
<rect class="gr" x="940" y="150" width="22" height="8"/><rect class="dark" x="950" y="150" width="2" height="8"/>
<path class="ow" d="M962,125 L966,128 M962,138 L966,134"/>
<rect class="gr" x="966" y="124" width="23" height="15"/><rect class="dark" x="976" y="124" width="2" height="15"/>
<rect class="ln" x="990" y="130.5" width="7" height="0.7"/>
</g>
<g id="d-curves-extended">
<rect class="dbox" x="1008" y="80" width="49" height="18"/>
<text class="t s4" x="1010" y="84.5">Curves Extended</text>
<rect class="ln" x="1010" y="89" width="8" height="0.7"/><rect class="ln" x="1010" y="94" width="8" height="0.7"/>
<rect class="dark" x="1020" y="87" width="3" height="3"/><rect class="dark" x="1027" y="87" width="3" height="3"/><rect class="dark" x="1020" y="93" width="3" height="3"/><rect class="dark" x="1027" y="93" width="3" height="3"/><rect class="dark" x="1036" y="89" width="3" height="3"/><rect class="dark" x="1043" y="89" width="3" height="3"/>
<path class="ow" d="M1018,89 L1020,88 M1023,88 L1027,88 M1030,88 L1036,90 M1023,94 L1027,94 M1039,90 L1043,90"/>
<rect class="ln" x="1047" y="94" width="8" height="0.7"/>
</g>
<g id="d-offset">
<rect class="dbox" x="1008" y="100" width="49" height="32"/>
<text class="t s4" x="1010" y="104.5">Offset curves 100 mm test</text>
<rect class="ln" x="1010" y="113" width="6" height="0.7"/><rect class="ln" x="1010" y="116" width="6" height="0.7"/><rect class="ln" x="1010" y="127" width="6" height="0.7"/>
<rect x="1012" y="120" width="5" height="5" fill="#f5ea3c"/>
<rect class="gr" x="1018" y="107" width="22" height="23"/><rect class="dark" x="1024" y="107" width="2" height="23"/>
<path class="ow" d="M1040,110 C1045,110 1044,114 1049,114 M1040,118 L1049,118 M1040,124 C1045,124 1045,122 1049,122"/>
<rect class="ln" x="1048" y="113.5" width="8" height="0.7"/><rect class="ln" x="1048" y="117.5" width="8" height="0.7"/><rect class="ln" x="1048" y="121.5" width="8" height="0.7"/>
</g>
</g>

<g id="r-draw-control-curves">
<rect class="dbox" x="765" y="209" width="134" height="99"/>
<text class="t s4" x="767" y="214">Draw Control Curves</text>
<rect x="767" y="217" width="21" height="23" fill="#ccc9c2" stroke="#bcb9b2" stroke-width="0.3"/>
<rect x="770" y="219" width="8" height="3" fill="#f5eb3a"/><rect class="dark" x="772" y="223" width="4" height="16"/>
<rect class="gr" x="780" y="221" width="6" height="17"/><path class="ow" d="M776,226 L780,223 M776,228 L780,227 M776,230 L780,231 M776,232 L780,235"/>
<rect x="767" y="243" width="21" height="23" fill="#ccc9c2" stroke="#bcb9b2" stroke-width="0.3"/>
<rect x="770" y="245" width="8" height="3" fill="#f5eb3a"/><rect class="dark" x="772" y="249" width="4" height="16"/>
<rect class="gr" x="780" y="247" width="6" height="17"/><path class="ow" d="M776,252 L780,249 M776,254 L780,253 M776,256 L780,257 M776,258 L780,261"/>
<rect x="767" y="269" width="28" height="17" fill="#ccc9c2" stroke="#bcb9b2" stroke-width="0.3"/>
<rect x="770" y="271" width="7" height="3" fill="#f5eb3a"/><rect class="dark" x="770" y="277" width="5" height="2"/><rect class="dark" x="780" y="272" width="4" height="13"/>
<rect class="gr" x="787" y="272" width="6" height="13"/>
<rect x="767" y="293" width="33" height="14" fill="#ccc9c2" stroke="#bcb9b2" stroke-width="0.3"/>
<text class="t s4" x="769" y="297.5">3d Curves</text>
<rect class="ln" x="769" y="301" width="7" height="0.7"/><rect class="dark" x="781" y="300" width="3" height="3"/><rect class="dark" x="788" y="299" width="4" height="7"/><rect class="ln" x="794" y="301" width="5" height="0.7"/>
<rect x="800" y="224" width="100" height="26" fill="#c9c6bf" stroke="#b9b6af" stroke-width="0.3"/>
<rect x="802" y="227" width="9" height="3" fill="#f5eb3a"/><rect x="813" y="227" width="9" height="3" fill="#f5eb3a"/><rect x="826" y="227" width="38" height="3" fill="#f5eb3a"/>
<rect class="gr" x="803" y="231" width="7" height="17"/><rect class="gr" x="815" y="231" width="7" height="17"/>
<rect x="826" y="231" width="4" height="6" fill="#8fd8e8"/>
<rect class="dark" x="833" y="231" width="3" height="4"/><rect class="dark" x="833" y="237" width="3" height="4"/><rect class="dark" x="842" y="231" width="3" height="3"/><rect class="dark" x="850" y="231" width="3" height="3"/><rect class="dark" x="858" y="231" width="3" height="3"/>
<rect class="dark" x="834" y="242" width="3" height="3"/><rect class="dark" x="841" y="242" width="3" height="3"/><rect class="dark" x="848" y="242" width="3" height="3"/>
<path class="ow" d="M830,233 L833,233 M836,233 L842,232 M845,232 L850,232 M853,232 L858,232 M861,232 L872,234 M836,238 C842,238 840,243 841,243 M837,243 L841,243 M844,243 L848,243 M851,243 L858,243"/>
<rect class="ln" x="872" y="233.5" width="10" height="0.7"/><rect class="ln" x="860" y="243" width="6" height="0.7"/><rect class="ln" x="885" y="226" width="12" height="0.7"/><rect class="ln" x="888" y="229" width="8" height="0.7"/>
<rect x="800" y="253" width="89" height="32" fill="#cfccc5" stroke="#bebbb4" stroke-width="0.3"/>
<rect class="ln" x="802" y="258" width="10" height="0.7"/>
<rect class="dark" x="819" y="258" width="5" height="26"/>
<path class="ow" d="M824,260 L842,262 M824,263 L842,265 M824,266 L842,268 M824,269 L842,271 M824,272 L842,274 M824,275 L842,277 M824,278 L842,280 M824,281 L842,283"/>
<rect x="842" y="257" width="9" height="3" fill="#f5eb3a"/><rect x="854" y="257" width="8" height="3" fill="#f5eb3a"/>
<rect class="gr" x="843" y="261" width="7" height="22"/><rect class="gr" x="855" y="261" width="7" height="22"/>
<rect class="dark" x="871" y="255" width="4" height="28"/>
<path class="ow" d="M875,262 L881,262"/><rect class="ln" x="881" y="261.5" width="5" height="0.7"/>
</g>

<g id="r-rest-in">
<rect class="dbox" x="763" y="322" width="42" height="21"/>
<text class="t" x="765" y="326.5" font-size="3.4">Rest Grasshopper IN</text>
<rect class="ln" x="765" y="330" width="5" height="0.7"/><rect class="ln" x="765" y="332.5" width="7" height="0.7"/><rect class="ln" x="765" y="335" width="6" height="0.7"/><rect class="ln" x="765" y="338" width="7" height="0.7"/>
<path class="ow" d="M772,333 L781,334 M772,338 L781,337"/>
<rect x="781" y="330" width="7" height="10" fill="#fafafa" stroke="#999" stroke-width="0.3"/>
<rect class="dark" x="790" y="330" width="4" height="10"/>
<rect class="ln" x="797" y="335" width="6" height="0.7"/>
</g>

<g id="r-primary-structure">
<circle cx="949" cy="256" r="34" fill="#ea7157"/>
<circle cx="986" cy="267" r="12" fill="#ea7157"/>
<circle cx="979" cy="284" r="9" fill="#ea7157"/>
<circle cx="966" cy="291" r="7" fill="#ea7157"/>
<text class="t" x="916" y="256" font-size="4.3" style="fill:#2a1a14">Generation of Primary Structure</text>
<rect x="932" y="261" width="7" height="2" fill="#a6b1c9"/><rect x="943" y="261" width="8" height="2" fill="#a6b1c9"/>
<rect x="932" y="268" width="7" height="2" fill="#a6b1c9"/><rect x="943" y="268" width="8" height="2" fill="#a6b1c9"/>
<rect x="960" y="269" width="9" height="3" fill="#a6b1c9"/><rect x="960" y="280" width="8" height="2" fill="#a6b1c9"/><rect x="964" y="289" width="5" height="2" fill="#a6b1c9"/>
<rect x="921" y="277" width="8" height="2" fill="#a6b1c9"/><rect x="931" y="277" width="8" height="2" fill="#a6b1c9"/>
<rect x="942" y="275" width="5" height="6" fill="#3e3e4a"/><rect x="954" y="279" width="4" height="4" fill="#3e3e4a"/>
<rect x="976" y="269" width="5" height="6" fill="#3e3e4a"/><rect x="992" y="263" width="4" height="5" fill="#3e3e4a"/><rect x="977" y="282" width="4" height="7" fill="#3e3e4a"/>
</g>

<g id="connectors">
<path d="M605,314 C690,313 745,303 800,290 C820,285 828,283 840,282 L877,279 L916,278" fill="none" stroke="#ee7d62" stroke-width="0.8"/>
</g>
</svg>
